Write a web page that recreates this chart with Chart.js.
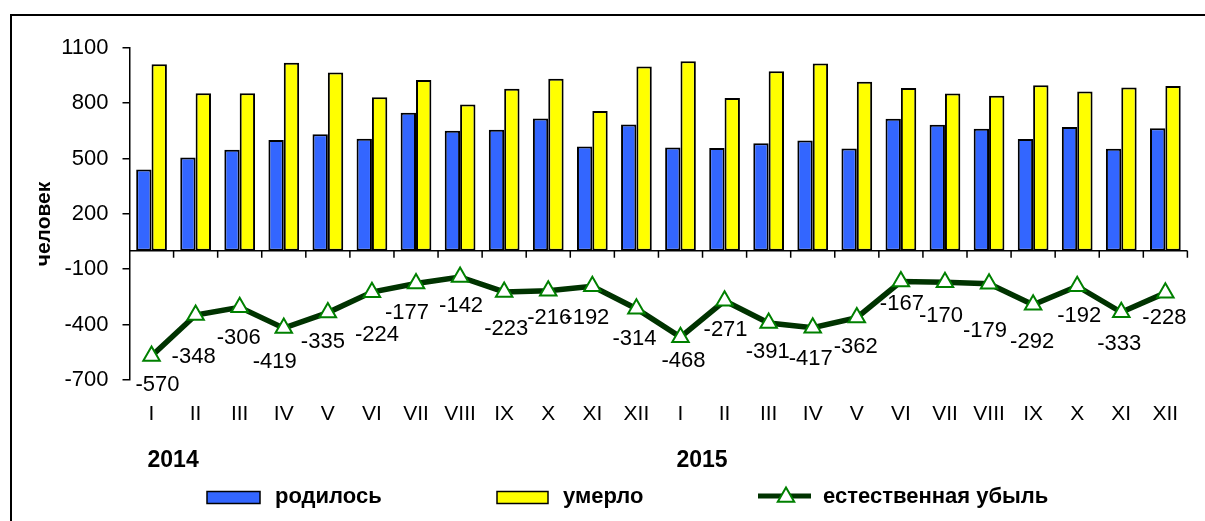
<!DOCTYPE html>
<html>
<head>
<meta charset="utf-8">
<script src="https://cdn.jsdelivr.net/npm/chart.js@4"></script>
<style>
  html, body { margin: 0; padding: 0; background: #ffffff; }
  #wrap { position: relative; width: 1205px; height: 521px; overflow: hidden; }
  canvas { display: block; }
</style>
</head>
<body>
<div id="wrap"><canvas id="c" width="1205" height="521"></canvas></div>
<script>
// ---- data ----
const months = ['I','II','III','IV','V','VI','VII','VIII','IX','X','XI','XII',
                'I','II','III','IV','V','VI','VII','VIII','IX','X','XI','XII'];
const years = ['2014', '2015'];
const born = [440, 505, 547, 600, 631, 607, 748, 650, 655, 716, 565, 684,
              559, 557, 582, 597, 554, 715, 682, 661, 605, 671, 552, 664];
const died = [1010, 853, 853, 1019, 966, 831, 925, 792, 878, 932, 757, 998,
              1027, 828, 973, 1014, 916, 882, 852, 840, 897, 863, 885, 892];
const naturalDecrease = [-570, -348, -306, -419, -335, -224, -177, -142, -223, -216, -192, -314,
                         -468, -271, -391, -417, -362, -167, -170, -179, -292, -192, -333, -228];
const yTicks = [-700, -400, -100, 200, 500, 800, 1100];
const seriesNames = ['родилось', 'умерло', 'естественная убыль'];
const yTitle = 'человек';

// ---- styling (label offsets relative to points, in px) ----
const labelOffsets = [
  [6, 29], [-2, 42], [-1, 31], [-9, 34], [-5, 29], [5, 43],
  [-9, 29], [1, 29], [2, 37], [1, 27], [-5, 32], [-2, 30],
  [3, 24], [1, 29], [-1, 29], [-2, 31], [-1, 29], [1, 22],
  [-4, 34], [-4, 47], [-1, 37], [2, 30], [-2, 32], [-1, 25]
];
const FONT = '"Liberation Sans", Arial, sans-serif';
const BLUE = '#3366FF', YELLOW = '#FFFF00', LINE = '#003300', MARK = '#008000';

function drawTriangle(ctx, x, y, r) {
  ctx.beginPath();
  ctx.moveTo(x, y - r);
  ctx.lineTo(x + r * Math.sin(2 * Math.PI / 3), y - r * Math.cos(2 * Math.PI / 3));
  ctx.lineTo(x + r * Math.sin(4 * Math.PI / 3), y - r * Math.cos(4 * Math.PI / 3));
  ctx.closePath();
  ctx.fillStyle = '#ffffff';
  ctx.fill();
  ctx.lineWidth = 2;
  ctx.strokeStyle = MARK;
  ctx.stroke();
}

const extras = {
  id: 'extras',
  beforeDatasetsDraw(chart) {
    const { ctx, scales: { x, y } } = chart;
    const y0 = y.getPixelForValue(0);
    ctx.save();
    ctx.strokeStyle = '#000';
    ctx.lineWidth = 1.5;
    ctx.beginPath();
    ctx.moveTo(x.left, y0);
    ctx.lineTo(x.right, y0);
    const n = months.length;
    for (let i = 1; i <= n; i++) {
      const px = x.left + i * (x.right - x.left) / n;
      ctx.moveTo(px, y0);
      ctx.lineTo(px, y0 + 7);
    }
    ctx.stroke();
    ctx.restore();
  },
  afterDatasetsDraw(chart) {
    const { ctx } = chart;
    const meta = chart.getDatasetMeta(2);
    ctx.save();
    ctx.font = '22px ' + FONT;
    ctx.fillStyle = '#000';
    ctx.textAlign = 'center';
    ctx.textBaseline = 'middle';
    meta.data.forEach((pt, i) => {
      const o = labelOffsets[i];
      ctx.fillText(String(naturalDecrease[i]), pt.x + o[0], pt.y + o[1]);
    });
    ctx.restore();
  },
  afterDraw(chart) {
    const { ctx, scales: { x } } = chart;
    ctx.save();
    // frame
    ctx.strokeStyle = '#000';
    ctx.lineWidth = 2;
    ctx.strokeRect(11, 15, 1300, 600);
    // y title
    ctx.save();
    ctx.translate(44, 224);
    ctx.rotate(-Math.PI / 2);
    ctx.font = 'bold 21px ' + FONT;
    ctx.fillStyle = '#000';
    ctx.textAlign = 'center';
    ctx.textBaseline = 'middle';
    ctx.fillText(yTitle, 0, 0);
    ctx.restore();
    // year labels
    ctx.font = 'bold 23px ' + FONT;
    ctx.fillStyle = '#000';
    ctx.textAlign = 'left';
    ctx.textBaseline = 'middle';
    years.forEach((yr, j) => {
      const px = x.getPixelForValue(j * 12);
      ctx.fillText(yr, px - 4, 461);
    });
    // legend
    const ly = 497;
    ctx.lineWidth = 1.5;
    ctx.strokeStyle = '#000';
    ctx.fillStyle = BLUE;
    ctx.fillRect(207, 491.5, 53, 12);
    ctx.strokeRect(207, 491.5, 53, 12);
    ctx.fillStyle = YELLOW;
    ctx.fillRect(497, 491.5, 51, 12);
    ctx.strokeRect(497, 491.5, 51, 12);
    ctx.strokeStyle = LINE;
    ctx.lineWidth = 5;
    ctx.beginPath();
    ctx.moveTo(758, 496);
    ctx.lineTo(811, 496);
    ctx.stroke();
    drawTriangle(ctx, 786, 497, 9.5);
    ctx.font = 'bold 22px ' + FONT;
    ctx.fillStyle = '#000';
    ctx.textAlign = 'left';
    ctx.textBaseline = 'middle';
    ctx.fillText(seriesNames[0], 275, ly);
    ctx.fillText(seriesNames[1], 563, ly);
    ctx.fillText(seriesNames[2], 823, ly);
    ctx.restore();
  }
};

new Chart(document.getElementById('c'), {
  type: 'bar',
  data: {
    labels: months,
    datasets: [
      { label: seriesNames[0], data: born, backgroundColor: BLUE, borderColor: '#000',
        borderWidth: 2, borderSkipped: false, categoryPercentage: 0.697, barPercentage: 1.0, order: 2 },
      { label: seriesNames[1], data: died, backgroundColor: YELLOW, borderColor: '#000',
        borderWidth: 2, borderSkipped: false, categoryPercentage: 0.697, barPercentage: 1.0, order: 2 },
      { type: 'line', label: seriesNames[2], data: naturalDecrease, borderColor: LINE, borderWidth: 5.5,
        pointStyle: 'triangle', pointRadius: 9.5, pointBackgroundColor: '#ffffff', pointBorderColor: MARK,
        pointBorderWidth: 2, tension: 0, fill: false, order: 1 }
    ]
  },
  options: {
    responsive: false,
    animation: false,
    devicePixelRatio: 1,
    layout: { padding: { left: 0, right: 17.6, top: 47.7, bottom: 0 } },
    plugins: { legend: { display: false }, tooltip: { enabled: false } },
    scales: {
      x: {
        position: 'bottom',
        grid: { display: false, drawTicks: false },
        border: { display: false },
        ticks: { color: '#000', font: { family: FONT, size: 21 }, padding: 22, maxRotation: 0, autoSkip: false },
        afterFit(scale) { scale.height = 521 - 380; }
      },
      y: {
        min: -700, max: 1100,
        grid: { display: true, drawOnChartArea: false, drawTicks: true, tickLength: 7, color: '#000', lineWidth: 1.5 },
        border: { display: true, color: '#000', width: 1.5 },
        ticks: {
          stepSize: 300, color: '#000', font: { family: FONT, size: 22 }, padding: 14,
          callback: (v) => yTicks.includes(v) ? String(v) : ''
        },
        afterFit(scale) { scale.width = 129.5; }
      }
    }
  },
  plugins: [extras]
});
</script>
</body>
</html>
